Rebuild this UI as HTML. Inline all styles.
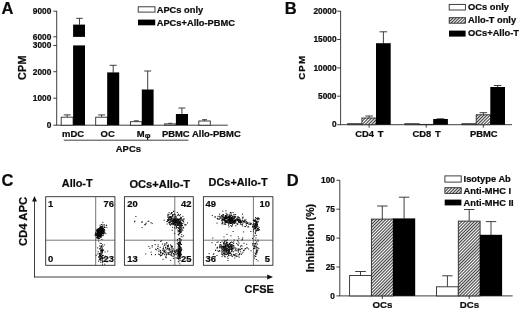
<!DOCTYPE html>
<html><head><meta charset="utf-8"><title>Figure</title>
<style>
html,body{margin:0;padding:0;background:#fff;}
svg{display:block;}
text{font-family:"Liberation Sans",sans-serif;font-weight:bold;fill:#0c0c0c;stroke:#0c0c0c;stroke-width:0.22px;}
</style></head>
<body>
<svg width="520" height="310" viewBox="0 0 520 310">
<defs>
<pattern id="h" width="1.04" height="1.04" patternUnits="userSpaceOnUse" patternTransform="rotate(-45)">
<rect width="1.04" height="1.04" fill="#fff"/><rect width="1.04" height="0.47" fill="#2a2a2a"/>
</pattern>
</defs>
<rect width="520" height="310" fill="#fff"/>
<text x="1.4" y="14.4" font-size="16.5" text-anchor="start">A</text>
<line x1="56.7" y1="10.8" x2="56.7" y2="125.2" stroke="#2a2a2a" stroke-width="0.9"/>
<line x1="56.3" y1="125.2" x2="227.8" y2="125.2" stroke="#2a2a2a" stroke-width="0.9"/>
<line x1="53.3" y1="11.2" x2="56.7" y2="11.2" stroke="#2a2a2a" stroke-width="0.9"/>
<text x="51.3" y="14.0" font-size="8.3" text-anchor="end">9000</text>
<line x1="53.3" y1="36.8" x2="56.7" y2="36.8" stroke="#2a2a2a" stroke-width="0.9"/>
<text x="51.3" y="39.6" font-size="8.3" text-anchor="end">6000</text>
<line x1="53.3" y1="45.5" x2="56.7" y2="45.5" stroke="#2a2a2a" stroke-width="0.9"/>
<text x="51.3" y="48.3" font-size="8.3" text-anchor="end">3000</text>
<line x1="53.3" y1="71.7" x2="56.7" y2="71.7" stroke="#2a2a2a" stroke-width="0.9"/>
<text x="51.3" y="74.5" font-size="8.3" text-anchor="end">2000</text>
<line x1="53.3" y1="98.2" x2="56.7" y2="98.2" stroke="#2a2a2a" stroke-width="0.9"/>
<text x="51.3" y="101.0" font-size="8.3" text-anchor="end">1000</text>
<line x1="53.3" y1="125.2" x2="56.7" y2="125.2" stroke="#2a2a2a" stroke-width="0.9"/>
<text x="51.3" y="128.0" font-size="8.3" text-anchor="end">0</text>
<text x="26.0" y="67.6" font-size="10.8" text-anchor="middle" transform="rotate(-90 26.0 67.6)" letter-spacing="0.3">CPM</text>
<line x1="67.2" y1="114.9" x2="67.2" y2="117.2" stroke="#2a2a2a" stroke-width="0.9"/>
<line x1="63.7" y1="114.9" x2="70.7" y2="114.9" stroke="#2a2a2a" stroke-width="0.9"/>
<rect x="61.2" y="117.2" width="11.9" height="8.0" fill="#fff" stroke="#2a2a2a" stroke-width="0.9"/>
<line x1="79.5" y1="18.3" x2="79.5" y2="24.7" stroke="#2a2a2a" stroke-width="0.9"/>
<line x1="76.2" y1="18.3" x2="82.8" y2="18.3" stroke="#2a2a2a" stroke-width="0.9"/>
<rect x="73.1" y="24.6" width="11.9" height="100.6" fill="#000"/>
<rect x="71.5" y="36.9" width="16" height="8.5" fill="#fff"/>
<line x1="101.6" y1="114.9" x2="101.6" y2="117.2" stroke="#2a2a2a" stroke-width="0.9"/>
<line x1="98.1" y1="114.9" x2="105.1" y2="114.9" stroke="#2a2a2a" stroke-width="0.9"/>
<rect x="95.7" y="117.2" width="11.7" height="8.0" fill="#fff" stroke="#2a2a2a" stroke-width="0.9"/>
<line x1="113.2" y1="65.3" x2="113.2" y2="72.6" stroke="#2a2a2a" stroke-width="0.9"/>
<line x1="109.7" y1="65.3" x2="116.7" y2="65.3" stroke="#2a2a2a" stroke-width="0.9"/>
<rect x="107.2" y="72.4" width="12.0" height="52.8" fill="#000"/>
<line x1="136.2" y1="120.8" x2="136.2" y2="121.7" stroke="#2a2a2a" stroke-width="0.9"/>
<line x1="133.8" y1="120.8" x2="138.8" y2="120.8" stroke="#2a2a2a" stroke-width="0.9"/>
<rect x="130.5" y="121.7" width="11.5" height="3.5" fill="#fff" stroke="#2a2a2a" stroke-width="0.9"/>
<line x1="147.7" y1="71.0" x2="147.7" y2="89.7" stroke="#2a2a2a" stroke-width="0.9"/>
<line x1="144.2" y1="71.0" x2="151.2" y2="71.0" stroke="#2a2a2a" stroke-width="0.9"/>
<rect x="141.8" y="89.5" width="11.8" height="35.7" fill="#000"/>
<line x1="170.3" y1="123.3" x2="170.3" y2="123.9" stroke="#2a2a2a" stroke-width="0.9"/>
<line x1="168.3" y1="123.3" x2="172.3" y2="123.3" stroke="#2a2a2a" stroke-width="0.9"/>
<rect x="164.6" y="123.9" width="11.5" height="1.3" fill="#fff" stroke="#2a2a2a" stroke-width="0.9"/>
<line x1="181.9" y1="108.0" x2="181.9" y2="114.2" stroke="#2a2a2a" stroke-width="0.9"/>
<line x1="178.4" y1="108.0" x2="185.4" y2="108.0" stroke="#2a2a2a" stroke-width="0.9"/>
<rect x="175.9" y="114.0" width="12.1" height="11.2" fill="#000"/>
<line x1="204.6" y1="119.7" x2="204.6" y2="121.0" stroke="#2a2a2a" stroke-width="0.9"/>
<line x1="202.1" y1="119.7" x2="207.1" y2="119.7" stroke="#2a2a2a" stroke-width="0.9"/>
<rect x="198.8" y="121.0" width="11.5" height="4.2" fill="#fff" stroke="#2a2a2a" stroke-width="0.9"/>
<text x="73.0" y="137.3" font-size="9.45" text-anchor="middle">mDC</text>
<text x="107.7" y="137.3" font-size="9.45" text-anchor="middle">OC</text>
<text x="175.8" y="137.3" font-size="9.45" text-anchor="middle">PBMC</text>
<text x="216.4" y="137.3" font-size="9.45" text-anchor="middle">Allo-PBMC</text>
<text x="143.6" y="137.3" font-size="9.45" text-anchor="middle">M<tspan font-size="8" dy="0.6">φ</tspan></text>
<line x1="63.8" y1="140.2" x2="188.4" y2="140.2" stroke="#2a2a2a" stroke-width="0.9"/>
<text x="128.4" y="151.6" font-size="9.45" text-anchor="middle">APCs</text>
<rect x="138.2" y="6.8" width="16.8" height="5.3" fill="#fff" stroke="#2a2a2a" stroke-width="0.9"/>
<rect x="138.0" y="19.6" width="17.2" height="5.7" fill="#000"/>
<text x="156.7" y="12.8" font-size="9.3" text-anchor="start">APCs only</text>
<text x="156.7" y="25.7" font-size="9.3" text-anchor="start">APCs+Allo-PBMC</text>
<text x="284.8" y="14.4" font-size="16.5" text-anchor="start">B</text>
<line x1="340.6" y1="11.0" x2="340.6" y2="124.7" stroke="#2a2a2a" stroke-width="0.9"/>
<line x1="340.2" y1="124.7" x2="512.0" y2="124.7" stroke="#2a2a2a" stroke-width="0.9"/>
<line x1="337.2" y1="11.2" x2="340.6" y2="11.2" stroke="#2a2a2a" stroke-width="0.9"/>
<text x="336.5" y="13.9" font-size="8.3" text-anchor="end">20000</text>
<line x1="337.2" y1="39.5" x2="340.6" y2="39.5" stroke="#2a2a2a" stroke-width="0.9"/>
<text x="336.5" y="42.2" font-size="8.3" text-anchor="end">15000</text>
<line x1="337.2" y1="67.9" x2="340.6" y2="67.9" stroke="#2a2a2a" stroke-width="0.9"/>
<text x="336.5" y="70.6" font-size="8.3" text-anchor="end">10000</text>
<line x1="337.2" y1="96.2" x2="340.6" y2="96.2" stroke="#2a2a2a" stroke-width="0.9"/>
<text x="336.5" y="98.9" font-size="8.3" text-anchor="end">5000</text>
<line x1="337.2" y1="124.7" x2="340.6" y2="124.7" stroke="#2a2a2a" stroke-width="0.9"/>
<text x="336.5" y="127.4" font-size="8.3" text-anchor="end">0</text>
<text x="305.3" y="67.3" font-size="9.7" text-anchor="middle" transform="rotate(-90 305.3 67.3)" letter-spacing="1.1">CPM</text>
<rect x="347.6" y="123.7" width="14.3" height="1.0" fill="#fff" stroke="#2a2a2a" stroke-width="0.9"/>
<line x1="369.1" y1="116.0" x2="369.1" y2="118.0" stroke="#2a2a2a" stroke-width="0.9"/>
<line x1="365.3" y1="116.0" x2="372.8" y2="116.0" stroke="#2a2a2a" stroke-width="0.9"/>
<rect x="361.9" y="118.0" width="14.3" height="6.7" fill="#fff"/>
<rect x="361.9" y="118.0" width="14.3" height="6.7" fill="url(#h)" stroke="#2a2a2a" stroke-width="0.9"/>
<line x1="383.4" y1="31.8" x2="383.4" y2="43.4" stroke="#2a2a2a" stroke-width="0.9"/>
<line x1="379.6" y1="31.8" x2="387.1" y2="31.8" stroke="#2a2a2a" stroke-width="0.9"/>
<rect x="376.0" y="43.2" width="14.7" height="81.5" fill="#000"/>
<line x1="369.1" y1="124.7" x2="369.1" y2="127.7" stroke="#2a2a2a" stroke-width="0.9"/>
<rect x="404.8" y="123.7" width="14.3" height="1.0" fill="#fff" stroke="#2a2a2a" stroke-width="0.9"/>
<rect x="419.1" y="124.4" width="14.3" height="0.3" fill="#fff"/>
<rect x="419.1" y="124.4" width="14.3" height="0.3" fill="url(#h)" stroke="#2a2a2a" stroke-width="0.9"/>
<line x1="440.6" y1="118.8" x2="440.6" y2="119.2" stroke="#2a2a2a" stroke-width="0.9"/>
<line x1="436.8" y1="118.8" x2="444.3" y2="118.8" stroke="#2a2a2a" stroke-width="0.9"/>
<rect x="433.2" y="119.0" width="14.7" height="5.7" fill="#000"/>
<line x1="426.2" y1="124.7" x2="426.2" y2="127.7" stroke="#2a2a2a" stroke-width="0.9"/>
<rect x="461.9" y="123.7" width="14.3" height="1.0" fill="#fff" stroke="#2a2a2a" stroke-width="0.9"/>
<line x1="483.4" y1="112.7" x2="483.4" y2="114.8" stroke="#2a2a2a" stroke-width="0.9"/>
<line x1="479.6" y1="112.7" x2="487.1" y2="112.7" stroke="#2a2a2a" stroke-width="0.9"/>
<rect x="476.2" y="114.8" width="14.3" height="9.9" fill="#fff"/>
<rect x="476.2" y="114.8" width="14.3" height="9.9" fill="url(#h)" stroke="#2a2a2a" stroke-width="0.9"/>
<line x1="497.6" y1="85.5" x2="497.6" y2="87.2" stroke="#2a2a2a" stroke-width="0.9"/>
<line x1="493.9" y1="85.5" x2="501.4" y2="85.5" stroke="#2a2a2a" stroke-width="0.9"/>
<rect x="490.3" y="87.0" width="14.7" height="37.7" fill="#000"/>
<line x1="483.3" y1="124.7" x2="483.3" y2="127.7" stroke="#2a2a2a" stroke-width="0.9"/>
<text x="369.4" y="136.6" font-size="9.4" text-anchor="middle" word-spacing="1.2">CD4 T</text>
<text x="426.6" y="136.6" font-size="9.4" text-anchor="middle" word-spacing="1.2">CD8 T</text>
<text x="483.7" y="136.6" font-size="9.4" text-anchor="middle" word-spacing="1.2">PBMC</text>
<rect x="449.2" y="4.4" width="16.2" height="5.6" fill="#fff" stroke="#2a2a2a" stroke-width="0.9"/>
<rect x="449.2" y="17.7" width="16.2" height="5.5" fill="#fff"/>
<rect x="449.2" y="17.7" width="16.2" height="5.5" fill="url(#h)" stroke="#2a2a2a" stroke-width="0.9"/>
<rect x="449.0" y="30.6" width="16.6" height="6.0" fill="#000"/>
<text x="468.1" y="10.2" font-size="9.3" text-anchor="start">OCs only</text>
<text x="468.1" y="23.3" font-size="9.3" text-anchor="start">Allo-T only</text>
<text x="468.1" y="36.4" font-size="9.3" text-anchor="start">OCs+Allo-T</text>
<text x="1.4" y="185.8" font-size="16.5" text-anchor="start">C</text>
<text x="26.8" y="221.5" font-size="11.3" text-anchor="middle" transform="rotate(-90 26.8 221.5)">CD4 APC</text>
<line x1="34.5" y1="199.0" x2="34.5" y2="277.4" stroke="#2a2a2a" stroke-width="0.9"/>
<line x1="34.1" y1="277.0" x2="269.6" y2="277.0" stroke="#2a2a2a" stroke-width="0.9"/>
<path d="M34.5 196 L32.1 201.4 L36.9 201.4 Z" fill="#111"/>
<path d="M273 277 L267.2 274.6 L267.2 279.4 Z" fill="#111"/>
<text x="259.2" y="293.2" font-size="11" text-anchor="middle">CFSE</text>
<rect x="45.7" y="196.7" width="69.2" height="68.6" fill="none" stroke="#2a2a2a" stroke-width="0.9"/>
<line x1="95.7" y1="196.7" x2="95.7" y2="265.3" stroke="#4a4a4a" stroke-width="0.75"/>
<line x1="45.7" y1="240.2" x2="114.9" y2="240.2" stroke="#4a4a4a" stroke-width="0.75"/>
<text x="77.2" y="186.6" font-size="10.9" text-anchor="middle">Allo-T</text>
<rect x="124.4" y="196.7" width="68.9" height="68.6" fill="none" stroke="#2a2a2a" stroke-width="0.9"/>
<line x1="174.8" y1="196.7" x2="174.8" y2="265.3" stroke="#4a4a4a" stroke-width="0.75"/>
<line x1="124.4" y1="240.2" x2="193.3" y2="240.2" stroke="#4a4a4a" stroke-width="0.75"/>
<text x="159.8" y="187.9" font-size="11.1" text-anchor="middle">OCs+Allo-T</text>
<rect x="203.4" y="196.7" width="69.5" height="68.6" fill="none" stroke="#2a2a2a" stroke-width="0.9"/>
<line x1="253.4" y1="196.7" x2="253.4" y2="265.3" stroke="#4a4a4a" stroke-width="0.75"/>
<line x1="203.4" y1="240.2" x2="272.9" y2="240.2" stroke="#4a4a4a" stroke-width="0.75"/>
<text x="238.1" y="186.4" font-size="10.9" text-anchor="middle">DCs+Allo-T</text>
<path d="M102.3 231.0h1.0M98.9 231.7h1.0M99.7 229.1h1.0M100.3 229.7h1.0M98.3 234.4h1.0M99.6 234.7h1.0M99.6 232.4h1.0M96.8 231.5h1.0M101.2 231.7h1.0M100.6 231.2h1.0M98.6 233.9h1.0M99.3 232.6h1.0M100.4 230.4h1.0M99.2 232.8h1.0M99.2 229.7h1.0M97.3 235.1h1.0M100.5 234.5h1.0M99.8 229.4h1.0M100.0 233.0h1.0M97.2 231.0h1.0M102.2 233.5h1.0M99.8 234.2h1.0M99.0 232.0h1.0M102.8 233.0h1.0M99.5 231.2h1.0M97.3 231.8h1.0M99.0 231.2h1.0M95.9 233.5h1.0M101.3 230.7h1.0M98.9 232.9h1.0M98.4 231.3h1.0M101.3 233.2h1.0M97.0 235.7h1.0M100.5 230.7h1.0M96.3 230.4h1.0M98.5 234.3h1.0M97.7 235.7h1.0M101.9 230.8h1.0M102.4 228.0h1.0M99.1 233.0h1.0M100.9 235.1h1.0M99.3 228.0h1.0M100.5 232.9h1.0M98.4 232.0h1.0M96.9 231.5h1.0M96.7 234.6h1.0M100.2 229.0h1.0M103.2 231.3h1.0M100.0 235.0h1.0M98.8 233.0h1.0M102.7 228.8h1.0M100.0 228.0h1.0M99.8 229.2h1.0M100.0 227.8h1.0M99.4 236.0h1.0M99.1 231.9h1.0M97.3 230.8h1.0M100.4 228.9h1.0M99.4 229.8h1.0M101.5 230.6h1.0M99.0 229.5h1.0M96.5 237.4h1.0M99.4 230.6h1.0M102.3 229.2h1.0M99.0 233.2h1.0M98.2 236.2h1.0M97.7 236.1h1.0M97.9 231.8h1.0M99.1 233.0h1.0M97.7 233.4h1.0M102.0 232.3h1.0M99.1 233.0h1.0M99.8 230.0h1.0M101.9 228.3h1.0M102.0 231.5h1.0M99.3 229.6h1.0M100.1 235.1h1.0M100.8 231.8h1.0M99.3 230.0h1.0M96.8 232.7h1.0M100.6 230.6h1.0M101.0 231.3h1.0M100.3 234.1h1.0M98.1 229.6h1.0M99.3 228.1h1.0M98.7 233.4h1.0M99.1 232.0h1.0M101.7 231.6h1.0M102.0 232.1h1.0M100.7 231.3h1.0M100.5 233.6h1.0M100.7 229.7h1.0M99.6 232.4h1.0M99.5 230.4h1.0M98.5 230.1h1.0M99.5 233.6h1.0M103.2 231.9h1.0M101.0 227.1h1.0M99.1 229.9h1.0M98.8 233.2h1.0M98.2 235.3h1.0M100.2 230.4h1.0M100.2 231.5h1.0M97.3 230.0h1.0M100.4 237.6h1.0M98.7 233.7h1.0M101.9 233.2h1.0M99.9 233.6h1.0M102.3 233.1h1.0M98.9 233.9h1.0M99.1 231.6h1.0M100.1 233.7h1.0M101.3 231.6h1.0M100.5 234.8h1.0M97.6 231.4h1.0M99.9 230.8h1.0M99.6 233.7h1.0M98.9 235.4h1.0M98.6 233.0h1.0M102.4 229.3h1.0M99.0 232.2h1.0M98.2 231.7h1.0M100.6 236.1h1.0M99.8 234.2h1.0M99.5 235.1h1.0M100.9 232.3h1.0M100.4 230.6h1.0M100.2 234.6h1.0M101.1 235.3h1.0M100.1 233.3h1.0M98.6 232.6h1.0M99.0 234.9h1.0M98.8 231.7h1.0M99.9 233.8h1.0M97.9 231.3h1.0M96.7 231.3h1.0M99.7 233.4h1.0M97.5 233.9h1.0M96.5 238.0h1.0M100.2 231.3h1.0M98.5 232.8h1.0M100.4 229.2h1.0M98.8 228.3h1.0M97.8 228.9h1.0M97.6 234.2h1.0M98.8 229.9h1.0M99.2 235.0h1.0M98.3 236.0h1.0M99.2 231.7h1.0M97.1 237.1h1.0M99.6 232.7h1.0M96.7 236.1h1.0M99.3 231.8h1.0M100.7 233.9h1.0M101.3 229.3h1.0M102.3 232.4h1.0M97.1 232.3h1.0M100.8 231.4h1.0M101.5 232.8h1.0M101.2 231.9h1.0M98.1 232.7h1.0M100.3 233.6h1.0M102.6 232.7h1.0M97.2 230.1h1.0M100.4 233.1h1.0M101.4 232.9h1.0M98.5 231.0h1.0M100.5 232.7h1.0M97.9 229.9h1.0M98.3 236.1h1.0M98.3 232.2h1.0M99.9 231.9h1.0M99.5 235.0h1.0M101.1 231.2h1.0M98.1 234.2h1.0M99.4 229.9h1.0M101.1 230.2h1.0M100.5 228.6h1.0M97.5 232.7h1.0M100.7 234.1h1.0M98.8 233.1h1.0M100.2 233.9h1.0M100.1 229.6h1.0M101.6 229.3h1.0M99.8 231.1h1.0M96.6 234.8h1.0M97.4 234.0h1.0M100.8 231.6h1.0M99.2 233.8h1.0M101.4 231.0h1.0M100.0 232.0h1.0M98.4 235.7h1.0M101.3 230.1h1.0M98.3 233.2h1.0M96.3 237.4h1.0M102.9 230.9h1.0M96.5 235.2h1.0M100.6 230.4h1.0M101.1 236.0h1.0M99.8 226.9h1.0M96.9 230.8h1.0M101.2 229.1h1.0M97.3 236.9h1.0M97.5 234.0h1.0M99.0 231.9h1.0M100.9 228.7h1.0M100.1 232.8h1.0M100.9 231.9h1.0M98.9 230.9h1.0M99.3 228.9h1.0M97.8 230.5h1.0M99.1 232.9h1.0M100.5 232.5h1.0M99.1 232.6h1.0M100.4 231.5h1.0M98.7 228.6h1.0M98.7 232.7h1.0M99.7 229.8h1.0M99.3 232.4h1.0M100.5 232.8h1.0M99.9 230.5h1.0M102.4 228.6h1.0M99.2 234.6h1.0M99.2 233.2h1.0M97.9 231.5h1.0M99.6 225.3h1.0M100.7 231.6h1.0M98.4 234.2h1.0M99.5 234.8h1.0M100.7 230.1h1.0M99.4 230.8h1.0M98.8 231.6h1.0M101.2 233.4h1.0M99.8 229.4h1.0M100.2 231.7h1.0M101.5 229.2h1.0M101.4 232.0h1.0M99.0 228.9h1.0M98.8 233.4h1.0M100.1 230.9h1.0M99.4 231.8h1.0M96.6 234.8h1.0M101.6 233.9h1.0M99.6 228.3h1.0M100.8 234.0h1.0M97.7 234.3h1.0M101.7 230.6h1.0M98.7 235.8h1.0M99.4 232.7h1.0M97.4 236.2h1.0M99.3 231.0h1.0M99.2 230.4h1.0M99.3 235.1h1.0M100.3 236.8h1.0M99.7 233.6h1.0M101.2 233.5h1.0M98.9 231.5h1.0M98.0 229.9h1.0M99.6 231.7h1.0M100.6 235.2h1.0M101.6 227.0h1.0M100.9 230.5h1.0M96.8 229.1h1.0M100.2 232.2h1.0M101.9 233.2h1.0M99.7 229.3h1.0M98.8 231.6h1.0M100.1 235.0h1.0M98.8 232.4h1.0M100.6 228.9h1.0M99.6 229.2h1.0M101.8 226.6h1.0M100.4 233.6h1.0M98.4 231.0h1.0M100.6 234.2h1.0M101.1 233.5h1.0M98.7 231.1h1.0M98.9 231.3h1.0M95.9 235.6h1.0M101.0 231.9h1.0M98.7 233.2h1.0M96.2 230.0h1.0M96.8 235.5h1.0M99.2 230.4h1.0M100.8 226.5h1.0M99.5 230.9h1.0M100.4 232.8h1.0M97.8 237.8h1.0M97.5 232.3h1.0M101.0 228.5h1.0M100.4 236.7h1.0M99.6 232.6h1.0M101.7 230.7h1.0M98.1 230.4h1.0M98.9 230.2h1.0M101.2 234.8h1.0M102.5 230.3h1.0M99.6 231.0h1.0M102.3 229.8h1.0M98.6 236.2h1.0M100.1 230.6h1.0M99.3 233.8h1.0M97.1 234.0h1.0M100.0 232.6h1.0M101.1 229.5h1.0M99.4 233.8h1.0M99.5 235.9h1.0M101.8 231.1h1.0M97.6 231.0h1.0M97.2 230.3h1.0M98.6 233.1h1.0M97.7 232.4h1.0M101.8 231.0h1.0M100.1 232.0h1.0M98.2 229.4h1.0M98.6 234.4h1.0M104.2 230.7h1.0M98.6 232.5h1.0M98.4 233.3h1.0M100.1 234.1h1.0M100.6 231.9h1.0M100.0 230.1h1.0M98.1 235.5h1.0M97.7 232.0h1.0M100.6 230.1h1.0M99.5 228.7h1.0M97.0 233.4h1.0M101.5 229.0h1.0M100.8 230.5h1.0M99.2 233.4h1.0M99.2 232.5h1.0M100.0 234.4h1.0M98.5 233.4h1.0M97.4 232.2h1.0M100.1 231.2h1.0M97.3 232.1h1.0M100.2 233.4h1.0M97.3 233.3h1.0M99.4 231.3h1.0M99.4 234.2h1.0M102.5 231.1h1.0M97.9 231.9h1.0M97.3 229.8h1.0M98.6 233.7h1.0M97.8 233.6h1.0M98.7 232.7h1.0M100.3 230.9h1.0M100.8 229.7h1.0M102.3 230.5h1.0M98.4 233.3h1.0M103.8 230.0h1.0M102.8 230.4h1.0M99.3 231.3h1.0M95.9 234.6h1.0M99.5 232.8h1.0M99.7 230.4h1.0M95.9 235.6h1.0M99.7 234.0h1.0M99.3 234.2h1.0M98.3 232.5h1.0M100.6 231.3h1.0M101.2 228.8h1.0M98.8 234.3h1.0M100.0 227.1h1.0M98.6 231.8h1.0M98.3 232.0h1.0M99.7 234.1h1.0M100.4 231.8h1.0M98.7 230.4h1.0M96.1 230.5h1.0M100.5 230.1h1.0M97.0 233.6h1.0M99.8 232.2h1.0M102.4 230.5h1.0M99.6 230.6h1.0M97.7 232.6h1.0M97.3 235.5h1.0M101.5 228.8h1.0M99.6 232.3h1.0M100.5 235.5h1.0M101.1 232.8h1.0M99.5 231.2h1.0M99.1 233.9h1.0M98.1 231.2h1.0M94.7 234.4h1.0M97.2 236.9h1.0M99.5 236.6h1.0M99.3 228.4h1.0M100.2 233.5h1.0M99.4 236.8h1.0M99.9 230.8h1.0M100.9 232.2h1.0M98.2 236.3h1.0M99.1 231.3h1.0M97.0 234.4h1.0M101.2 231.4h1.0M99.7 227.8h1.0M100.4 232.6h1.0M102.1 230.7h1.0M101.3 233.5h1.0M99.5 237.0h1.0M100.9 233.2h1.0M97.3 232.4h1.0M100.3 232.9h1.0M99.8 232.6h1.0M97.0 235.7h1.0M101.7 227.9h1.0M98.5 230.0h1.0M100.7 227.0h1.0M98.9 233.9h1.0M101.2 231.4h1.0M101.7 229.8h1.0M98.3 231.1h1.0M97.2 232.0h1.0M99.4 230.2h1.0M101.0 230.9h1.0M99.0 231.3h1.0M98.6 235.8h1.0M100.4 232.6h1.0M95.2 232.3h1.0M98.5 231.3h1.0M97.4 235.9h1.0M100.1 233.0h1.0M98.4 233.4h1.0M97.8 234.7h1.0M99.0 236.1h1.0M97.3 230.5h1.0M99.6 230.5h1.0M98.5 228.7h1.0M99.0 233.6h1.0M98.5 231.8h1.0M101.1 230.0h1.0M99.4 230.5h1.0M100.4 233.4h1.0M100.4 231.5h1.0M98.3 231.6h1.0M100.5 234.7h1.0M100.2 229.6h1.0M100.1 229.1h1.0M99.0 238.4h1.0M98.9 231.7h1.0M100.9 230.4h1.0M103.1 229.0h1.0M98.3 232.5h1.0M100.5 233.6h1.0M99.0 234.2h1.0M100.9 232.9h1.0M100.3 231.2h1.0M101.3 228.0h1.0M95.1 234.9h1.0M98.6 236.1h1.0M98.0 235.4h1.0M99.4 231.9h1.0M98.4 234.6h1.0M98.6 231.8h1.0M100.7 231.6h1.0M102.6 228.0h1.0M95.1 233.5h1.0M99.1 232.7h1.0M100.1 231.6h1.0M102.8 233.6h1.0M106.3 227.3h1.0M104.5 227.5h1.0M99.3 230.0h1.0M98.0 234.5h1.0M98.2 241.1h1.0M97.2 238.1h1.0M100.4 237.0h1.0M101.6 235.5h1.0M100.9 224.5h1.0M100.9 229.9h1.0M100.8 229.1h1.0M99.9 236.0h1.0M97.9 238.7h1.0M105.8 225.5h1.0M103.7 229.4h1.0M97.4 234.7h1.0M97.4 230.6h1.0M98.4 229.6h1.0M100.4 228.3h1.0M104.3 232.3h1.0M103.5 225.8h1.0M103.7 233.6h1.0M103.8 229.5h1.0M103.8 232.0h1.0M102.7 235.7h1.0M101.8 227.7h1.0M99.9 228.1h1.0M94.7 235.6h1.0M99.9 227.2h1.0M106.1 225.2h1.0M98.6 231.5h1.0M98.3 232.7h1.0M103.6 224.5h1.0M100.6 229.4h1.0M98.8 234.0h1.0M105.3 233.6h1.0M102.3 222.4h1.0M102.7 234.7h1.0M98.5 235.3h1.0M101.9 226.0h1.0M101.5 224.7h1.0M102.8 231.3h1.0M104.0 227.5h1.0M103.9 229.6h1.0M100.8 234.0h1.0M102.5 228.4h1.0M96.6 233.5h1.0M102.4 231.7h1.0M102.5 233.3h1.0M99.1 238.4h1.0M97.8 238.8h1.0M100.1 232.0h1.0M96.4 232.1h1.0M101.4 239.5h1.0M101.2 233.0h1.0M97.3 234.2h1.0M100.5 226.7h1.0M103.7 232.2h1.0M103.7 226.2h1.0M100.3 260.2h1.0M99.3 257.5h1.0M100.2 256.5h1.0M100.9 257.0h1.0M99.2 255.1h1.0M99.8 248.5h1.0M100.7 258.4h1.0M99.4 258.4h1.0M99.4 253.7h1.0M99.9 258.5h1.0M99.3 259.4h1.0M101.5 247.5h1.0M99.7 253.7h1.0M101.6 252.1h1.0M101.8 249.5h1.0M99.5 256.3h1.0M100.8 249.9h1.0M100.3 252.1h1.0M99.6 255.8h1.0M100.4 256.4h1.0M100.5 256.3h1.0M101.9 251.7h1.0M99.6 255.9h1.0M100.4 247.9h1.0M101.4 257.1h1.0M102.1 260.8h1.0M98.1 261.2h1.0M102.2 251.0h1.0M100.6 253.0h1.0M102.5 261.4h1.0M100.3 254.0h1.0M99.9 259.8h1.0M100.8 249.2h1.0M102.1 262.1h1.0M100.8 260.1h1.0M98.2 257.1h1.0M101.6 250.1h1.0M99.0 253.6h1.0M99.7 255.3h1.0M99.5 255.9h1.0M98.8 253.9h1.0M99.4 253.3h1.0M99.7 255.6h1.0M100.1 262.2h1.0M100.7 243.5h1.0M100.4 247.0h1.0M99.2 246.0h1.0M100.6 250.7h1.0M101.9 244.9h1.0M101.8 257.5h1.0M100.9 255.0h1.0M101.5 253.1h1.0M101.8 250.8h1.0M102.3 255.4h1.0M102.7 255.5h1.0M100.4 256.3h1.0M100.5 250.5h1.0M102.4 258.1h1.0M102.5 246.4h1.0M102.5 261.4h1.0M98.2 237.6h1.0M100.6 251.2h1.0M97.2 247.9h1.0M101.6 258.8h1.0M100.9 246.3h1.0M100.6 246.0h1.0M100.5 257.0h1.0M101.6 256.8h1.0M102.6 258.7h1.0M107.2 251.1h1.0M103.8 244.9h1.0M95.7 255.4h1.0M104.6 252.0h1.0M102.1 255.5h1.0M97.3 254.0h1.0M103.5 257.3h1.0M98.4 256.9h1.0M102.0 258.1h1.0M102.1 250.2h1.0M99.8 259.0h1.0M103.2 250.0h1.0M98.8 253.5h1.0M102.0 264.2h1.0M100.1 255.1h1.0M101.0 246.0h1.0M106.5 261.9h1.0M101.8 259.0h1.0M98.7 259.8h1.0M101.2 254.2h1.0M99.5 255.1h1.0M101.6 251.6h1.0M101.9 248.8h1.0M101.7 262.2h1.0M101.7 250.8h1.0M100.1 250.1h1.0M102.7 250.3h1.0M104.2 264.2h1.0M99.9 258.3h1.0M101.3 250.8h1.0M101.7 252.7h1.0M104.8 256.1h1.0M104.3 258.3h1.0M99.6 243.3h1.0M101.7 258.4h1.0M97.6 251.7h1.0M99.0 248.9h1.0M101.5 250.7h1.0M177.9 224.0h1.0M181.9 220.2h1.0M175.3 221.6h1.0M177.0 219.7h1.0M171.4 212.5h1.0M176.7 222.0h1.0M178.1 223.8h1.0M168.6 212.7h1.0M172.6 220.1h1.0M177.9 220.6h1.0M167.5 215.8h1.0M173.2 220.0h1.0M177.2 215.4h1.0M167.8 220.3h1.0M173.1 224.7h1.0M174.9 217.0h1.0M178.4 221.9h1.0M169.5 224.6h1.0M179.2 222.8h1.0M176.0 219.8h1.0M179.6 219.4h1.0M179.5 223.0h1.0M176.1 221.1h1.0M176.7 223.8h1.0M167.6 214.3h1.0M169.2 223.4h1.0M170.6 218.8h1.0M173.3 223.0h1.0M178.5 219.8h1.0M167.4 215.0h1.0M173.4 219.0h1.0M169.3 216.6h1.0M168.3 218.3h1.0M180.8 224.9h1.0M175.1 224.9h1.0M181.4 223.6h1.0M179.6 220.6h1.0M170.9 218.7h1.0M167.1 221.2h1.0M183.2 227.2h1.0M173.0 219.7h1.0M170.0 219.6h1.0M177.5 219.4h1.0M175.3 222.0h1.0M171.9 223.7h1.0M173.3 211.1h1.0M175.4 222.2h1.0M175.0 219.4h1.0M177.8 214.2h1.0M173.3 221.9h1.0M173.3 220.5h1.0M177.2 223.1h1.0M176.0 217.0h1.0M179.2 229.5h1.0M173.7 221.3h1.0M174.3 220.0h1.0M170.0 225.1h1.0M180.8 225.0h1.0M169.0 222.5h1.0M175.5 225.3h1.0M171.0 213.3h1.0M176.1 227.1h1.0M177.8 220.8h1.0M168.0 220.4h1.0M173.8 224.1h1.0M167.5 217.0h1.0M180.5 223.7h1.0M172.9 223.3h1.0M168.2 219.4h1.0M171.8 222.1h1.0M180.1 217.2h1.0M180.8 218.8h1.0M179.9 218.7h1.0M171.5 221.6h1.0M174.1 233.5h1.0M181.4 223.8h1.0M171.7 219.9h1.0M173.3 220.6h1.0M170.8 223.5h1.0M169.9 222.4h1.0M179.6 218.6h1.0M177.3 225.3h1.0M176.5 221.6h1.0M177.1 224.5h1.0M178.9 215.6h1.0M180.9 217.6h1.0M174.7 223.2h1.0M173.3 214.8h1.0M170.5 221.4h1.0M179.1 223.5h1.0M172.6 221.1h1.0M168.6 220.8h1.0M173.6 221.8h1.0M174.8 222.7h1.0M178.1 220.7h1.0M178.8 222.2h1.0M171.7 230.2h1.0M171.4 224.2h1.0M173.4 222.9h1.0M169.7 221.2h1.0M174.3 218.7h1.0M176.6 222.4h1.0M174.9 220.4h1.0M168.1 222.7h1.0M169.8 216.9h1.0M180.0 214.7h1.0M170.5 218.3h1.0M177.7 224.3h1.0M177.3 230.1h1.0M173.4 224.3h1.0M170.6 216.9h1.0M175.6 220.7h1.0M171.1 217.1h1.0M174.0 220.4h1.0M175.1 218.3h1.0M171.8 215.0h1.0M173.8 222.4h1.0M173.4 221.5h1.0M169.6 219.3h1.0M173.9 222.2h1.0M172.1 227.3h1.0M167.2 219.7h1.0M173.3 219.6h1.0M173.5 223.8h1.0M172.2 215.1h1.0M166.2 221.6h1.0M177.9 219.4h1.0M177.5 219.2h1.0M177.4 222.3h1.0M176.0 227.1h1.0M169.5 217.4h1.0M175.2 224.5h1.0M170.9 221.5h1.0M183.7 218.9h1.0M172.6 223.7h1.0M177.4 219.1h1.0M168.3 214.7h1.0M169.9 217.3h1.0M172.5 218.2h1.0M177.6 223.9h1.0M176.9 219.3h1.0M175.9 226.5h1.0M167.1 220.0h1.0M179.3 220.0h1.0M170.9 217.4h1.0M181.3 223.7h1.0M182.4 216.4h1.0M178.1 214.8h1.0M178.8 219.3h1.0M169.5 222.0h1.0M185.3 224.5h1.0M175.6 221.5h1.0M178.8 221.5h1.0M171.2 213.0h1.0M174.4 220.0h1.0M169.8 214.0h1.0M173.7 223.7h1.0M174.8 221.2h1.0M175.7 221.2h1.0M180.4 224.0h1.0M176.7 222.8h1.0M175.7 222.2h1.0M174.9 222.4h1.0M182.9 221.3h1.0M172.3 216.1h1.0M179.6 223.6h1.0M166.7 224.0h1.0M171.1 223.7h1.0M176.4 220.9h1.0M174.0 223.1h1.0M187.0 222.9h1.0M185.3 225.2h1.0M168.5 217.6h1.0M170.3 220.5h1.0M174.1 227.7h1.0M181.8 225.6h1.0M179.4 227.4h1.0M176.0 219.0h1.0M168.9 217.4h1.0M171.2 220.2h1.0M163.7 220.2h1.0M168.4 218.9h1.0M176.5 225.0h1.0M177.9 220.2h1.0M169.4 224.4h1.0M175.2 224.6h1.0M181.4 219.2h1.0M175.4 223.3h1.0M173.5 220.1h1.0M177.2 225.2h1.0M176.9 220.0h1.0M175.1 222.3h1.0M172.5 222.5h1.0M173.0 211.6h1.0M175.1 215.0h1.0M172.5 221.1h1.0M180.2 222.2h1.0M178.4 225.5h1.0M179.2 223.1h1.0M183.0 219.1h1.0M181.2 224.0h1.0M180.5 220.2h1.0M176.2 220.8h1.0M173.9 219.3h1.0M184.2 224.8h1.0M172.0 215.8h1.0M172.2 216.8h1.0M171.2 212.9h1.0M175.6 228.6h1.0M176.4 218.3h1.0M178.9 219.4h1.0M173.8 217.1h1.0M167.6 217.2h1.0M176.0 220.1h1.0M178.7 224.3h1.0M174.8 221.8h1.0M174.2 222.2h1.0M177.0 219.8h1.0M180.6 222.5h1.0M174.4 225.2h1.0M168.9 219.6h1.0M172.4 221.6h1.0M174.0 214.3h1.0M167.3 221.0h1.0M177.9 222.9h1.0M171.6 224.7h1.0M176.8 212.5h1.0M175.5 221.5h1.0M173.4 220.4h1.0M181.4 223.2h1.0M172.4 218.5h1.0M172.0 221.2h1.0M175.9 223.8h1.0M178.1 222.2h1.0M174.7 220.2h1.0M170.7 219.4h1.0M177.5 220.6h1.0M177.2 221.9h1.0M183.2 220.9h1.0M173.8 214.3h1.0M175.6 225.9h1.0M172.4 214.7h1.0M168.6 219.2h1.0M175.0 216.8h1.0M178.2 221.1h1.0M170.5 216.8h1.0M171.9 220.3h1.0M169.9 217.1h1.0M180.2 218.2h1.0M172.1 221.5h1.0M182.3 230.6h1.0M180.6 231.4h1.0M180.1 222.0h1.0M178.0 231.0h1.0M179.8 224.1h1.0M180.7 236.4h1.0M178.8 230.1h1.0M181.6 229.4h1.0M179.9 228.0h1.0M180.6 228.6h1.0M179.0 228.7h1.0M179.0 225.8h1.0M180.3 231.9h1.0M180.6 229.9h1.0M180.5 231.9h1.0M178.1 228.5h1.0M178.6 231.6h1.0M179.9 225.6h1.0M176.6 243.7h1.0M181.8 225.7h1.0M180.5 226.9h1.0M180.0 232.8h1.0M178.6 233.9h1.0M181.4 225.4h1.0M179.4 221.7h1.0M183.3 222.9h1.0M180.6 224.6h1.0M177.2 225.4h1.0M181.2 228.0h1.0M179.0 233.1h1.0M179.0 233.3h1.0M179.5 226.2h1.0M179.7 231.0h1.0M180.4 232.4h1.0M181.3 234.6h1.0M180.7 228.1h1.0M178.6 225.6h1.0M177.5 231.9h1.0M178.4 235.1h1.0M180.5 226.5h1.0M181.5 236.9h1.0M183.1 235.9h1.0M177.5 227.6h1.0M180.0 222.1h1.0M179.5 226.2h1.0M179.2 227.2h1.0M180.1 231.0h1.0M179.4 221.7h1.0M179.4 238.9h1.0M178.7 238.5h1.0M180.6 225.7h1.0M181.8 220.9h1.0M182.8 228.0h1.0M178.9 230.5h1.0M178.0 234.4h1.0M179.4 231.7h1.0M178.4 227.9h1.0M181.7 220.4h1.0M178.4 230.9h1.0M180.0 232.2h1.0M177.5 227.4h1.0M179.3 229.9h1.0M180.2 229.6h1.0M182.6 227.7h1.0M178.6 223.8h1.0M180.6 230.1h1.0M176.2 222.7h1.0M177.7 234.6h1.0M178.4 224.9h1.0M179.0 230.8h1.0M141.6 227.6h1.0M150.5 222.7h1.0M145.7 223.1h1.0M151.7 223.6h1.0M141.1 222.1h1.0M134.4 221.2h1.0M145.2 224.1h1.0M144.6 224.4h1.0M135.4 216.5h1.0M141.9 222.0h1.0M134.0 221.7h1.0M148.3 221.2h1.0M144.4 224.8h1.0M147.5 221.3h1.0M179.7 253.1h1.0M178.4 253.6h1.0M178.6 245.7h1.0M179.6 243.7h1.0M178.3 242.5h1.0M178.8 249.8h1.0M177.9 261.3h1.0M178.1 252.4h1.0M179.6 246.4h1.0M179.5 252.9h1.0M177.9 250.2h1.0M177.9 252.2h1.0M181.2 249.6h1.0M178.4 246.0h1.0M178.1 249.2h1.0M179.4 254.5h1.0M178.2 252.8h1.0M178.6 256.6h1.0M179.7 247.0h1.0M179.8 255.9h1.0M178.8 251.8h1.0M180.1 252.3h1.0M178.8 256.8h1.0M178.7 251.0h1.0M178.9 252.6h1.0M178.7 254.2h1.0M179.4 254.3h1.0M179.2 255.0h1.0M178.2 257.0h1.0M179.1 253.8h1.0M178.4 249.7h1.0M178.4 261.9h1.0M178.8 251.5h1.0M179.8 253.2h1.0M179.2 248.5h1.0M180.1 242.5h1.0M180.3 248.4h1.0M178.9 251.9h1.0M178.4 253.9h1.0M178.2 251.8h1.0M179.2 255.0h1.0M179.7 255.8h1.0M180.4 255.8h1.0M177.8 251.7h1.0M179.8 252.0h1.0M179.9 250.8h1.0M181.1 248.0h1.0M179.1 257.7h1.0M178.9 246.4h1.0M177.6 251.4h1.0M178.2 252.6h1.0M177.9 242.7h1.0M178.0 254.8h1.0M178.1 250.2h1.0M177.6 252.6h1.0M178.9 250.3h1.0M179.3 245.2h1.0M179.6 252.5h1.0M178.8 252.1h1.0M179.9 255.9h1.0M179.9 253.7h1.0M177.6 244.6h1.0M178.7 256.3h1.0M177.8 255.0h1.0M178.1 254.9h1.0M179.1 253.7h1.0M178.8 248.7h1.0M180.3 253.9h1.0M180.8 250.2h1.0M179.3 263.8h1.0M178.8 250.7h1.0M178.8 247.0h1.0M178.9 250.3h1.0M179.5 257.7h1.0M178.3 249.3h1.0M179.5 241.4h1.0M178.7 257.9h1.0M179.9 253.1h1.0M180.2 249.6h1.0M180.5 254.7h1.0M178.8 247.8h1.0M177.7 246.8h1.0M177.4 255.7h1.0M178.7 249.5h1.0M177.7 253.9h1.0M177.5 251.7h1.0M178.6 255.2h1.0M178.1 252.1h1.0M179.6 243.1h1.0M180.7 254.5h1.0M178.7 249.7h1.0M179.2 255.4h1.0M177.5 252.2h1.0M179.1 257.7h1.0M178.3 250.4h1.0M178.0 243.0h1.0M177.3 250.3h1.0M180.4 253.8h1.0M177.5 250.2h1.0M177.9 249.7h1.0M179.0 257.9h1.0M179.2 251.0h1.0M179.2 256.1h1.0M179.1 252.3h1.0M178.2 245.6h1.0M179.7 247.7h1.0M179.1 250.4h1.0M177.7 253.0h1.0M180.4 248.3h1.0M178.7 245.7h1.0M179.8 247.4h1.0M177.7 249.5h1.0M177.9 248.0h1.0M178.4 249.2h1.0M178.3 259.5h1.0M179.9 252.8h1.0M177.5 248.2h1.0M179.1 251.6h1.0M178.1 258.3h1.0M179.4 254.4h1.0M179.2 251.2h1.0M178.5 246.0h1.0M181.0 244.5h1.0M178.9 250.2h1.0M180.0 251.2h1.0M177.8 244.8h1.0M178.9 246.0h1.0M179.0 251.5h1.0M179.1 242.3h1.0M178.7 244.4h1.0M178.2 251.4h1.0M176.2 254.0h1.0M178.5 253.0h1.0M178.1 255.8h1.0M178.7 258.3h1.0M179.7 255.4h1.0M181.0 250.5h1.0M179.5 260.6h1.0M179.9 258.7h1.0M179.5 255.6h1.0M179.6 248.3h1.0M179.5 253.4h1.0M178.7 242.9h1.0M178.7 250.3h1.0M179.3 241.2h1.0M180.6 249.9h1.0M179.7 256.0h1.0M180.4 251.8h1.0M177.8 258.5h1.0M179.2 251.7h1.0M167.9 244.9h1.0M165.5 251.1h1.0M170.5 255.3h1.0M167.1 248.4h1.0M174.5 251.8h1.0M177.0 253.4h1.0M169.6 251.9h1.0M160.6 255.5h1.0M170.7 247.3h1.0M175.5 258.0h1.0M171.2 246.7h1.0M169.1 248.6h1.0M173.0 249.0h1.0M175.3 252.2h1.0M151.7 245.6h1.0M176.5 254.8h1.0M172.0 252.0h1.0M170.2 260.4h1.0M164.0 251.8h1.0M168.7 250.2h1.0M171.0 253.2h1.0M158.4 251.5h1.0M171.8 251.1h1.0M167.8 246.6h1.0M176.2 249.6h1.0M171.4 252.5h1.0M166.3 254.1h1.0M167.7 252.9h1.0M171.2 251.4h1.0M168.2 253.4h1.0M170.6 249.7h1.0M163.1 251.1h1.0M159.9 255.1h1.0M163.9 254.7h1.0M158.8 254.6h1.0M162.7 248.5h1.0M169.5 252.2h1.0M157.6 244.8h1.0M160.0 253.1h1.0M171.8 250.2h1.0M164.2 245.0h1.0M167.3 248.9h1.0M159.9 250.4h1.0M161.1 240.8h1.0M165.5 244.9h1.0M177.2 256.9h1.0M170.0 251.9h1.0M157.3 248.6h1.0M170.0 245.0h1.0M172.9 258.4h1.0M171.5 255.9h1.0M160.0 252.2h1.0M167.0 246.4h1.0M180.1 255.9h1.0M161.8 254.3h1.0M169.4 250.0h1.0M162.9 249.0h1.0M159.7 247.4h1.0M164.8 252.8h1.0M173.5 251.3h1.0M174.3 251.1h1.0M162.1 244.0h1.0M164.5 243.7h1.0M162.0 253.5h1.0M154.9 254.6h1.0M171.0 255.1h1.0M176.7 258.6h1.0M176.4 250.6h1.0M164.6 250.1h1.0M175.3 254.1h1.0M173.9 251.6h1.0M165.4 257.2h1.0M167.4 245.6h1.0M165.2 248.1h1.0M168.8 249.8h1.0M178.3 250.4h1.0M161.8 253.1h1.0M160.2 241.4h1.0M172.6 256.6h1.0M167.8 254.6h1.0M156.1 249.8h1.0M161.3 255.2h1.0M162.5 259.3h1.0M163.8 250.9h1.0M169.4 254.3h1.0M173.4 253.8h1.0M166.5 252.8h1.0M168.3 249.1h1.0M163.0 247.1h1.0M173.6 254.7h1.0M175.5 250.6h1.0M165.9 254.4h1.0M163.0 253.2h1.0M179.9 251.8h1.0M173.0 253.6h1.0M162.1 250.2h1.0M157.3 248.3h1.0M165.7 255.2h1.0M174.7 252.7h1.0M164.2 251.2h1.0M166.0 242.9h1.0M164.5 252.8h1.0M171.4 246.1h1.0M175.9 251.2h1.0M159.9 255.9h1.0M165.8 257.8h1.0M166.3 249.2h1.0M163.8 245.2h1.0M160.3 251.1h1.0M172.4 250.5h1.0M168.4 252.6h1.0M171.8 246.5h1.0M176.6 257.4h1.0M165.3 256.8h1.0M170.8 245.9h1.0M165.1 247.4h1.0M167.0 248.1h1.0M169.5 254.4h1.0M166.5 242.9h1.0M158.5 250.0h1.0M176.6 252.0h1.0M168.4 248.1h1.0M160.6 252.4h1.0M154.3 240.4h1.0M167.4 245.5h1.0M171.5 248.7h1.0M173.6 255.2h1.0M174.2 251.1h1.0M165.2 247.2h1.0M171.4 253.8h1.0M149.4 248.3h1.0M148.3 246.4h1.0M150.6 252.1h1.0M155.1 249.2h1.0M171.6 247.8h1.0M145.2 254.0h1.0M154.7 244.6h1.0M151.7 247.0h1.0M151.0 254.6h1.0M163.4 250.2h1.0M158.2 254.0h1.0M157.5 246.4h1.0M179.3 239.8h1.0M177.1 239.5h1.0M180.2 243.8h1.0M179.4 238.4h1.0M178.9 238.7h1.0M180.5 239.5h1.0M178.7 242.8h1.0M177.3 243.2h1.0M180.5 240.7h1.0M178.7 243.9h1.0M180.0 242.9h1.0M178.4 244.7h1.0M180.0 244.2h1.0M176.9 240.9h1.0M230.3 223.2h1.0M228.5 217.9h1.0M231.7 219.6h1.0M230.4 215.6h1.0M229.5 216.8h1.0M233.0 222.3h1.0M229.7 219.6h1.0M233.1 214.8h1.0M229.5 219.6h1.0M228.5 218.9h1.0M234.1 216.9h1.0M234.3 221.0h1.0M235.8 219.4h1.0M232.6 219.9h1.0M228.3 222.2h1.0M230.3 218.0h1.0M230.2 222.7h1.0M220.2 218.2h1.0M223.5 218.5h1.0M237.3 223.9h1.0M229.0 220.7h1.0M214.6 217.3h1.0M228.7 219.3h1.0M230.2 220.3h1.0M223.0 215.1h1.0M241.2 222.4h1.0M235.2 220.1h1.0M233.6 216.4h1.0M228.4 217.0h1.0M231.8 222.2h1.0M233.7 216.5h1.0M231.8 225.8h1.0M225.9 216.4h1.0M230.3 220.3h1.0M230.0 212.6h1.0M230.8 219.6h1.0M223.9 217.7h1.0M230.7 221.1h1.0M229.3 220.2h1.0M230.5 218.8h1.0M230.3 225.6h1.0M221.8 221.1h1.0M233.7 217.9h1.0M233.2 220.9h1.0M222.3 211.1h1.0M228.8 217.9h1.0M224.8 222.7h1.0M226.9 217.8h1.0M234.4 220.4h1.0M232.0 216.6h1.0M239.5 222.6h1.0M229.7 219.9h1.0M223.4 219.1h1.0M229.8 222.2h1.0M216.5 223.1h1.0M238.4 222.5h1.0M230.5 214.9h1.0M231.4 220.8h1.0M229.9 220.3h1.0M224.7 216.0h1.0M228.5 215.0h1.0M225.0 218.1h1.0M226.4 218.5h1.0M230.8 219.5h1.0M222.8 217.0h1.0M237.5 220.6h1.0M223.4 219.9h1.0M233.3 219.0h1.0M225.6 220.3h1.0M222.5 217.3h1.0M230.9 215.3h1.0M229.7 219.5h1.0M227.7 221.8h1.0M228.5 226.9h1.0M225.6 213.3h1.0M231.0 218.2h1.0M226.3 216.8h1.0M228.9 220.2h1.0M234.5 217.5h1.0M221.9 219.2h1.0M225.8 221.9h1.0M225.2 217.1h1.0M224.6 218.9h1.0M221.7 223.4h1.0M227.2 221.8h1.0M229.4 215.0h1.0M228.0 225.1h1.0M220.3 216.9h1.0M232.1 220.6h1.0M232.2 218.6h1.0M229.0 218.2h1.0M223.4 217.1h1.0M224.1 220.8h1.0M238.6 218.1h1.0M237.5 216.7h1.0M231.0 218.1h1.0M223.8 219.1h1.0M235.1 214.4h1.0M229.5 221.7h1.0M237.2 218.2h1.0M225.6 221.2h1.0M231.0 223.5h1.0M227.4 220.3h1.0M232.4 221.3h1.0M225.2 218.0h1.0M233.3 218.0h1.0M226.5 214.1h1.0M223.9 218.6h1.0M231.5 218.2h1.0M229.7 213.0h1.0M217.6 219.3h1.0M228.3 223.7h1.0M229.0 220.6h1.0M229.5 222.8h1.0M239.1 219.6h1.0M225.2 216.4h1.0M228.4 219.7h1.0M219.7 217.8h1.0M221.0 215.7h1.0M225.5 222.1h1.0M227.8 219.9h1.0M227.5 217.6h1.0M231.8 220.3h1.0M232.3 219.4h1.0M233.7 221.6h1.0M227.7 223.8h1.0M231.0 218.0h1.0M224.8 215.9h1.0M230.4 223.5h1.0M231.0 226.3h1.0M225.9 217.6h1.0M211.8 215.6h1.0M225.1 215.9h1.0M241.8 220.6h1.0M228.0 219.8h1.0M225.2 218.5h1.0M229.0 221.9h1.0M234.3 217.7h1.0M230.2 218.0h1.0M227.4 215.9h1.0M221.8 222.8h1.0M226.9 222.4h1.0M222.3 222.6h1.0M230.3 217.3h1.0M236.3 223.8h1.0M234.0 220.8h1.0M225.4 221.3h1.0M223.4 220.7h1.0M221.3 218.1h1.0M230.8 219.2h1.0M231.4 215.5h1.0M232.6 218.3h1.0M230.2 219.0h1.0M222.2 215.8h1.0M218.5 219.0h1.0M234.2 223.5h1.0M224.1 217.8h1.0M238.3 217.7h1.0M217.5 216.3h1.0M222.7 219.6h1.0M223.6 224.0h1.0M229.8 220.1h1.0M231.9 220.0h1.0M225.6 215.9h1.0M231.5 220.7h1.0M221.7 220.7h1.0M225.8 218.2h1.0M222.1 219.0h1.0M225.5 217.5h1.0M225.1 221.3h1.0M230.0 223.4h1.0M246.3 222.0h1.0M221.3 220.4h1.0M227.3 219.6h1.0M231.9 218.1h1.0M228.8 217.4h1.0M235.8 219.0h1.0M223.1 219.4h1.0M232.4 219.8h1.0M224.3 222.0h1.0M232.6 221.9h1.0M229.3 223.7h1.0M229.7 221.8h1.0M225.3 218.6h1.0M218.8 219.0h1.0M222.7 214.6h1.0M232.1 224.4h1.0M227.0 217.8h1.0M232.2 218.7h1.0M221.5 224.0h1.0M231.7 216.9h1.0M233.6 218.3h1.0M216.9 218.4h1.0M230.1 218.1h1.0M238.5 220.6h1.0M224.5 219.9h1.0M233.6 221.7h1.0M228.6 219.3h1.0M232.8 221.8h1.0M226.4 218.5h1.0M224.4 220.9h1.0M226.2 222.6h1.0M226.5 214.6h1.0M225.4 218.7h1.0M223.9 219.7h1.0M234.2 214.8h1.0M225.4 210.9h1.0M222.2 219.9h1.0M223.6 217.4h1.0M231.0 221.9h1.0M216.8 218.6h1.0M231.0 219.7h1.0M232.1 218.9h1.0M235.1 220.4h1.0M226.1 216.9h1.0M224.2 217.8h1.0M229.3 221.8h1.0M229.2 218.9h1.0M235.3 221.5h1.0M228.7 219.6h1.0M226.2 218.5h1.0M221.5 216.3h1.0M227.4 221.8h1.0M228.8 217.3h1.0M234.6 221.1h1.0M229.0 215.3h1.0M235.5 220.9h1.0M234.9 221.1h1.0M224.5 217.5h1.0M222.5 214.6h1.0M225.2 218.9h1.0M227.3 219.8h1.0M224.3 217.8h1.0M232.1 218.0h1.0M232.0 222.4h1.0M234.8 219.8h1.0M229.9 218.5h1.0M226.2 221.7h1.0M230.6 219.7h1.0M223.8 217.3h1.0M229.3 222.0h1.0M224.5 218.3h1.0M234.5 222.6h1.0M214.6 216.6h1.0M232.9 220.8h1.0M233.1 223.3h1.0M228.3 220.8h1.0M230.3 221.1h1.0M229.6 220.9h1.0M235.2 222.5h1.0M237.1 220.5h1.0M228.6 220.8h1.0M237.0 219.6h1.0M225.2 224.6h1.0M230.7 217.3h1.0M230.8 222.0h1.0M221.9 216.4h1.0M230.2 221.2h1.0M225.0 222.9h1.0M232.6 216.9h1.0M223.9 224.0h1.0M219.3 216.2h1.0M221.7 216.8h1.0M228.6 220.5h1.0M230.1 216.7h1.0M230.3 222.4h1.0M224.5 220.6h1.0M232.6 212.5h1.0M225.6 215.4h1.0M227.4 217.5h1.0M233.6 221.1h1.0M227.7 216.6h1.0M218.7 216.8h1.0M232.2 221.6h1.0M228.5 216.8h1.0M226.5 220.2h1.0M235.2 216.4h1.0M225.2 222.0h1.0M231.9 223.7h1.0M229.2 216.5h1.0M242.0 214.2h1.0M219.1 214.2h1.0M229.5 222.3h1.0M230.3 218.1h1.0M234.2 222.9h1.0M226.3 215.7h1.0M225.2 216.7h1.0M235.7 219.8h1.0M226.3 222.3h1.0M229.9 219.0h1.0M228.2 216.7h1.0M230.5 220.5h1.0M221.5 219.2h1.0M225.7 220.7h1.0M228.2 219.0h1.0M229.0 217.9h1.0M234.2 220.0h1.0M231.1 213.0h1.0M231.5 220.5h1.0M228.2 222.9h1.0M245.6 223.0h1.0M238.2 219.7h1.0M235.3 225.8h1.0M249.4 222.9h1.0M240.3 223.0h1.0M241.8 220.1h1.0M244.0 220.1h1.0M239.9 221.2h1.0M243.1 221.5h1.0M250.3 223.2h1.0M240.4 221.5h1.0M252.3 226.2h1.0M244.8 226.5h1.0M244.4 226.6h1.0M247.5 223.3h1.0M247.4 227.0h1.0M248.1 226.8h1.0M245.6 221.5h1.0M240.0 220.4h1.0M250.9 223.8h1.0M242.1 225.9h1.0M238.8 220.8h1.0M247.3 222.6h1.0M246.1 225.7h1.0M242.7 221.6h1.0M243.2 221.8h1.0M245.8 224.0h1.0M252.4 224.7h1.0M242.5 217.0h1.0M236.7 218.0h1.0M240.1 222.8h1.0M245.4 219.7h1.0M241.9 224.3h1.0M239.6 221.1h1.0M246.5 223.4h1.0M246.5 223.5h1.0M241.9 218.1h1.0M244.3 220.9h1.0M239.7 219.1h1.0M239.9 221.8h1.0M241.2 224.7h1.0M236.2 219.9h1.0M244.5 222.5h1.0M242.5 217.9h1.0M240.3 220.6h1.0M243.4 221.6h1.0M243.5 221.8h1.0M239.1 222.3h1.0M239.9 224.2h1.0M238.9 221.0h1.0M249.5 224.4h1.0M234.5 216.8h1.0M242.4 223.1h1.0M246.9 223.0h1.0M237.4 217.1h1.0M238.0 221.5h1.0M237.9 219.5h1.0M233.8 221.9h1.0M248.4 224.3h1.0M241.4 221.8h1.0M237.0 224.2h1.0M239.3 220.8h1.0M243.3 221.5h1.0M240.7 221.6h1.0M237.9 221.1h1.0M244.8 220.7h1.0M237.9 222.0h1.0M240.3 222.3h1.0M243.1 221.0h1.0M238.7 217.8h1.0M257.0 218.9h1.0M257.2 219.7h1.0M256.5 221.6h1.0M256.7 230.7h1.0M258.0 221.8h1.0M255.7 235.4h1.0M257.8 229.0h1.0M255.0 223.8h1.0M253.8 228.0h1.0M255.2 228.8h1.0M254.7 220.3h1.0M256.0 218.7h1.0M258.1 230.5h1.0M255.9 221.3h1.0M256.9 228.2h1.0M258.6 227.5h1.0M258.1 218.5h1.0M255.4 227.4h1.0M254.2 227.1h1.0M258.7 229.8h1.0M253.6 224.8h1.0M252.4 226.7h1.0M252.1 226.4h1.0M257.1 224.0h1.0M252.9 231.2h1.0M254.9 228.6h1.0M255.1 230.8h1.0M257.4 226.3h1.0M253.1 229.4h1.0M255.4 221.3h1.0M255.8 222.6h1.0M257.5 228.8h1.0M254.9 224.1h1.0M255.7 223.4h1.0M254.9 225.5h1.0M257.0 218.9h1.0M256.8 225.6h1.0M254.7 226.8h1.0M256.2 223.7h1.0M252.9 220.6h1.0M255.4 231.6h1.0M253.9 226.5h1.0M254.6 221.0h1.0M256.9 222.7h1.0M258.7 218.7h1.0M255.6 218.3h1.0M255.1 217.6h1.0M254.8 221.7h1.0M256.5 226.5h1.0M255.0 227.7h1.0M256.9 224.5h1.0M257.8 228.8h1.0M256.3 227.1h1.0M254.7 220.5h1.0M256.6 221.7h1.0M254.2 226.0h1.0M252.5 227.5h1.0M257.2 229.1h1.0M258.4 219.7h1.0M257.5 217.5h1.0M254.8 232.6h1.0M249.9 223.9h1.0M254.2 228.8h1.0M256.3 225.1h1.0M254.7 219.7h1.0M257.5 230.3h1.0M254.0 226.8h1.0M256.1 230.6h1.0M255.7 227.3h1.0M255.7 221.2h1.0M253.1 224.8h1.0M255.2 228.8h1.0M255.7 222.4h1.0M254.7 225.7h1.0M253.2 229.5h1.0M254.5 220.3h1.0M253.8 223.6h1.0M255.9 225.7h1.0M256.9 228.7h1.0M255.8 224.7h1.0M255.9 222.3h1.0M255.0 227.2h1.0M255.6 222.7h1.0M252.2 226.6h1.0M255.4 226.4h1.0M256.7 224.3h1.0M254.4 228.3h1.0M256.4 229.6h1.0M252.9 220.1h1.0M255.4 227.1h1.0M255.0 224.4h1.0M256.0 223.9h1.0M255.5 225.4h1.0M258.9 229.6h1.0M250.2 224.5h1.0M253.0 223.9h1.0M254.2 220.3h1.0M255.4 224.5h1.0M254.2 225.1h1.0M254.2 221.5h1.0M224.7 243.2h1.0M228.6 249.8h1.0M233.2 248.8h1.0M224.8 246.9h1.0M236.2 243.5h1.0M231.2 249.4h1.0M230.6 248.8h1.0M229.2 248.0h1.0M226.8 248.6h1.0M223.2 247.5h1.0M226.0 251.3h1.0M226.6 250.8h1.0M227.2 256.7h1.0M234.1 255.1h1.0M236.4 248.9h1.0M229.1 243.8h1.0M231.4 251.7h1.0M223.0 246.4h1.0M216.5 255.5h1.0M226.0 242.6h1.0M227.7 247.2h1.0M233.5 255.6h1.0M238.6 249.0h1.0M227.8 252.1h1.0M233.0 251.8h1.0M232.1 246.9h1.0M227.6 252.6h1.0M230.7 245.3h1.0M228.5 247.6h1.0M234.3 258.0h1.0M221.3 248.2h1.0M215.0 250.5h1.0M227.2 244.4h1.0M231.2 254.7h1.0M231.8 245.0h1.0M223.7 245.8h1.0M229.3 246.4h1.0M223.3 244.9h1.0M230.0 242.9h1.0M222.9 247.7h1.0M221.2 246.8h1.0M231.3 248.5h1.0M220.3 244.7h1.0M219.2 245.0h1.0M230.6 247.5h1.0M227.1 248.9h1.0M215.0 244.9h1.0M232.5 248.7h1.0M220.5 247.9h1.0M224.3 253.4h1.0M226.0 251.6h1.0M236.7 251.0h1.0M226.5 253.2h1.0M231.1 246.2h1.0M225.9 254.6h1.0M229.2 249.7h1.0M219.6 246.8h1.0M226.6 250.6h1.0M223.6 244.3h1.0M221.6 256.4h1.0M228.1 249.9h1.0M231.8 242.5h1.0M229.0 244.1h1.0M225.0 246.7h1.0M230.3 246.5h1.0M221.1 250.8h1.0M228.2 252.6h1.0M229.2 253.2h1.0M226.2 251.2h1.0M225.4 244.9h1.0M227.2 253.6h1.0M223.8 254.1h1.0M225.5 240.6h1.0M230.3 246.4h1.0M217.0 247.3h1.0M232.9 245.5h1.0M228.9 253.3h1.0M227.7 250.8h1.0M221.6 249.1h1.0M224.6 243.6h1.0M223.6 240.1h1.0M230.0 244.8h1.0M229.7 245.3h1.0M232.4 245.0h1.0M226.9 239.8h1.0M216.5 242.3h1.0M221.8 247.0h1.0M224.7 250.2h1.0M228.2 246.5h1.0M219.0 247.8h1.0M225.5 248.5h1.0M226.8 248.5h1.0M223.5 253.9h1.0M225.6 245.3h1.0M237.8 249.6h1.0M226.4 243.1h1.0M236.3 253.8h1.0M227.7 251.9h1.0M222.9 253.0h1.0M229.2 249.2h1.0M224.4 248.2h1.0M226.1 243.3h1.0M215.3 250.1h1.0M228.2 254.6h1.0M223.5 236.9h1.0M232.0 256.3h1.0M227.0 245.3h1.0M224.5 250.8h1.0M221.2 245.3h1.0M226.5 248.1h1.0M224.5 252.3h1.0M222.5 248.0h1.0M235.7 256.5h1.0M225.6 249.0h1.0M230.8 251.6h1.0M233.6 246.1h1.0M228.4 246.6h1.0M229.5 247.1h1.0M228.9 250.9h1.0M231.1 255.9h1.0M229.2 248.9h1.0M228.8 243.3h1.0M227.0 246.2h1.0M223.9 242.9h1.0M224.2 250.9h1.0M223.2 248.9h1.0M227.3 244.2h1.0M232.8 247.3h1.0M221.6 252.8h1.0M223.3 250.8h1.0M221.4 246.3h1.0M226.0 252.0h1.0M231.4 250.5h1.0M224.7 246.4h1.0M227.8 249.6h1.0M214.8 256.8h1.0M225.6 244.1h1.0M228.7 253.2h1.0M223.3 248.2h1.0M218.2 251.5h1.0M228.6 250.5h1.0M225.8 250.0h1.0M235.3 248.1h1.0M223.4 248.8h1.0M225.5 251.7h1.0M224.4 250.8h1.0M226.8 242.5h1.0M217.3 250.8h1.0M233.0 254.4h1.0M229.4 252.6h1.0M225.2 249.7h1.0M224.5 241.0h1.0M228.9 251.3h1.0M228.1 251.6h1.0M224.2 255.1h1.0M225.5 244.7h1.0M228.0 247.8h1.0M224.2 246.5h1.0M224.7 247.6h1.0M224.2 241.4h1.0M224.5 246.8h1.0M219.9 246.9h1.0M221.6 247.2h1.0M228.1 255.6h1.0M230.2 246.1h1.0M226.0 246.9h1.0M208.6 253.6h1.0M219.0 246.3h1.0M228.3 253.9h1.0M234.6 250.7h1.0M232.3 246.1h1.0M225.3 245.7h1.0M224.6 249.3h1.0M224.2 247.9h1.0M234.9 249.2h1.0M227.5 246.3h1.0M221.8 251.3h1.0M231.0 245.9h1.0M230.4 246.7h1.0M216.4 248.0h1.0M223.2 243.3h1.0M231.3 247.4h1.0M230.8 247.8h1.0M220.2 242.5h1.0M226.3 241.0h1.0M230.7 254.1h1.0M228.0 247.6h1.0M221.2 248.1h1.0M225.4 246.0h1.0M229.6 255.5h1.0M228.8 247.8h1.0M221.6 241.0h1.0M237.9 250.8h1.0M227.5 244.5h1.0M219.0 250.6h1.0M224.8 248.1h1.0M212.9 254.2h1.0M223.0 250.8h1.0M226.2 247.1h1.0M238.3 254.9h1.0M227.4 260.5h1.0M228.2 246.4h1.0M230.2 253.4h1.0M227.5 250.4h1.0M223.5 250.7h1.0M233.1 243.4h1.0M229.0 244.6h1.0M234.0 254.9h1.0M231.5 249.4h1.0M221.8 246.5h1.0M224.2 256.6h1.0M224.5 254.1h1.0M224.6 252.0h1.0M228.7 244.6h1.0M225.6 248.8h1.0M222.6 255.2h1.0M233.7 240.0h1.0M233.2 241.9h1.0M226.7 245.3h1.0M221.3 253.0h1.0M223.5 249.8h1.0M222.8 250.9h1.0M222.1 249.7h1.0M221.7 249.3h1.0M227.7 254.0h1.0M228.6 250.9h1.0M221.9 254.5h1.0M228.0 246.9h1.0M236.3 255.8h1.0M227.7 249.3h1.0M224.6 249.6h1.0M239.9 246.8h1.0M228.1 245.5h1.0M223.5 246.5h1.0M230.9 244.6h1.0M223.0 243.2h1.0M224.8 256.9h1.0M231.5 250.8h1.0M223.6 253.2h1.0M219.3 251.1h1.0M230.0 242.7h1.0M230.6 249.0h1.0M219.8 245.0h1.0M224.8 245.4h1.0M231.9 248.4h1.0M227.8 249.6h1.0M230.7 249.3h1.0M226.0 249.4h1.0M223.5 247.6h1.0M223.8 249.0h1.0M225.1 254.3h1.0M227.5 258.4h1.0M213.4 253.8h1.0M217.2 247.9h1.0M226.7 250.6h1.0M229.9 253.1h1.0M223.4 253.3h1.0M226.7 254.2h1.0M221.4 254.3h1.0M242.5 252.1h1.0M238.4 250.0h1.0M230.9 242.0h1.0M246.5 247.8h1.0M243.7 250.6h1.0M235.0 254.0h1.0M240.1 249.7h1.0M237.7 245.4h1.0M237.4 256.4h1.0M250.5 250.8h1.0M237.9 249.1h1.0M254.5 253.1h1.0M239.2 253.7h1.0M235.7 250.6h1.0M240.8 248.6h1.0M254.4 248.7h1.0M239.1 254.1h1.0M243.1 250.4h1.0M226.5 252.9h1.0M243.5 243.3h1.0M231.8 248.9h1.0M239.3 249.4h1.0M248.2 249.0h1.0M238.5 243.1h1.0M244.3 249.1h1.0M238.7 257.2h1.0M238.0 252.1h1.0M241.7 248.8h1.0M246.5 248.0h1.0M240.6 245.5h1.0M239.9 251.8h1.0M234.3 247.8h1.0M229.9 249.3h1.0M240.8 254.4h1.0M238.9 254.6h1.0M241.6 253.3h1.0M246.2 244.2h1.0M244.9 248.6h1.0M234.7 255.6h1.0M241.5 246.1h1.0M257.1 244.1h1.0M255.4 238.0h1.0M256.7 251.9h1.0M254.9 233.6h1.0M253.9 246.3h1.0M254.1 236.0h1.0M257.3 247.6h1.0M255.0 256.3h1.0M253.9 246.0h1.0M256.5 248.1h1.0M253.4 248.7h1.0M255.2 253.4h1.0M255.9 242.0h1.0M255.8 252.4h1.0M256.0 251.0h1.0M255.3 244.9h1.0M252.2 245.2h1.0M255.8 259.5h1.0M255.4 256.3h1.0M255.2 254.4h1.0M256.1 246.2h1.0M256.4 249.4h1.0M255.7 243.1h1.0M257.4 240.1h1.0M258.3 248.5h1.0M255.8 247.7h1.0M255.0 243.5h1.0M253.8 243.6h1.0M256.2 254.0h1.0M253.1 248.5h1.0M257.6 241.3h1.0M254.8 240.2h1.0M256.3 252.9h1.0M254.3 245.0h1.0M254.0 255.9h1.0M256.4 252.0h1.0M254.1 258.1h1.0M255.8 251.1h1.0M255.3 246.6h1.0M257.5 260.9h1.0M255.8 251.2h1.0M257.5 250.2h1.0M256.6 250.5h1.0M254.4 246.8h1.0M238.3 238.7h1.0M254.3 248.0h1.0M252.1 243.7h1.0M237.7 241.8h1.0M241.9 239.3h1.0M243.1 231.9h1.0M226.5 234.4h1.0M252.0 238.4h1.0M237.1 240.4h1.0M212.3 238.0h1.0M241.5 240.1h1.0M223.2 242.4h1.0M237.7 236.8h1.0M242.2 237.9h1.0M230.4 235.8h1.0M237.4 244.5h1.0M250.3 231.5h1.0M217.6 242.0h1.0M211.5 242.7h1.0M232.6 231.5h1.0" stroke="#0a0a0a" stroke-width="1" fill="none"/>
<text x="47.9" y="207.4" font-size="9.4" text-anchor="start">1</text>
<text x="114.0" y="207.4" font-size="9.4" text-anchor="end">76</text>
<text x="47.9" y="261.6" font-size="9.4" text-anchor="start">0</text>
<text x="114.0" y="261.6" font-size="9.4" text-anchor="end">23</text>
<text x="127.2" y="207.4" font-size="9.4" text-anchor="start">20</text>
<text x="191.4" y="207.4" font-size="9.4" text-anchor="end">42</text>
<text x="127.2" y="261.6" font-size="9.4" text-anchor="start">13</text>
<text x="191.4" y="261.6" font-size="9.4" text-anchor="end">25</text>
<text x="205.6" y="207.4" font-size="9.4" text-anchor="start">49</text>
<text x="269.9" y="207.4" font-size="9.4" text-anchor="end">10</text>
<text x="205.6" y="261.6" font-size="9.4" text-anchor="start">36</text>
<text x="269.9" y="261.6" font-size="9.4" text-anchor="end">5</text>
<text x="286.7" y="186.0" font-size="16.5" text-anchor="start">D</text>
<line x1="339.8" y1="180.1" x2="339.8" y2="295.9" stroke="#2a2a2a" stroke-width="0.9"/>
<line x1="339.4" y1="295.9" x2="512.7" y2="295.9" stroke="#2a2a2a" stroke-width="0.9"/>
<line x1="336.4" y1="180.3" x2="339.8" y2="180.3" stroke="#2a2a2a" stroke-width="0.9"/>
<text x="334.9" y="182.9" font-size="8.3" text-anchor="end">100</text>
<line x1="336.4" y1="209.2" x2="339.8" y2="209.2" stroke="#2a2a2a" stroke-width="0.9"/>
<text x="334.9" y="211.8" font-size="8.3" text-anchor="end">75</text>
<line x1="336.4" y1="238.1" x2="339.8" y2="238.1" stroke="#2a2a2a" stroke-width="0.9"/>
<text x="334.9" y="240.7" font-size="8.3" text-anchor="end">50</text>
<line x1="336.4" y1="267.0" x2="339.8" y2="267.0" stroke="#2a2a2a" stroke-width="0.9"/>
<text x="334.9" y="269.6" font-size="8.3" text-anchor="end">25</text>
<line x1="336.4" y1="295.9" x2="339.8" y2="295.9" stroke="#2a2a2a" stroke-width="0.9"/>
<text x="334.9" y="298.5" font-size="8.3" text-anchor="end">0</text>
<text x="313.6" y="238.0" font-size="10.8" text-anchor="middle" transform="rotate(-90 313.6 238.0)">Inhibition (%)</text>
<line x1="360.5" y1="271.5" x2="360.5" y2="275.5" stroke="#2a2a2a" stroke-width="0.9"/>
<line x1="355.2" y1="271.5" x2="365.8" y2="271.5" stroke="#2a2a2a" stroke-width="0.9"/>
<rect x="349.6" y="275.5" width="21.8" height="20.4" fill="#fff" stroke="#2a2a2a" stroke-width="0.9"/>
<line x1="382.3" y1="206.0" x2="382.3" y2="219.1" stroke="#2a2a2a" stroke-width="0.9"/>
<line x1="377.1" y1="206.0" x2="387.6" y2="206.0" stroke="#2a2a2a" stroke-width="0.9"/>
<rect x="371.4" y="219.1" width="21.8" height="76.8" fill="#fff"/>
<rect x="371.4" y="219.1" width="21.8" height="76.8" fill="url(#h)" stroke="#2a2a2a" stroke-width="0.9"/>
<line x1="404.1" y1="197.2" x2="404.1" y2="218.6" stroke="#2a2a2a" stroke-width="0.9"/>
<line x1="398.9" y1="197.2" x2="409.4" y2="197.2" stroke="#2a2a2a" stroke-width="0.9"/>
<rect x="393.0" y="218.4" width="22.2" height="77.5" fill="#000"/>
<line x1="382.3" y1="295.9" x2="382.3" y2="298.9" stroke="#2a2a2a" stroke-width="0.9"/>
<line x1="447.4" y1="275.8" x2="447.4" y2="286.8" stroke="#2a2a2a" stroke-width="0.9"/>
<line x1="442.1" y1="275.8" x2="452.6" y2="275.8" stroke="#2a2a2a" stroke-width="0.9"/>
<rect x="436.5" y="286.8" width="21.8" height="9.1" fill="#fff" stroke="#2a2a2a" stroke-width="0.9"/>
<line x1="469.2" y1="209.5" x2="469.2" y2="221.1" stroke="#2a2a2a" stroke-width="0.9"/>
<line x1="464.0" y1="209.5" x2="474.5" y2="209.5" stroke="#2a2a2a" stroke-width="0.9"/>
<rect x="458.3" y="221.1" width="21.8" height="74.8" fill="#fff"/>
<rect x="458.3" y="221.1" width="21.8" height="74.8" fill="url(#h)" stroke="#2a2a2a" stroke-width="0.9"/>
<line x1="491.0" y1="221.6" x2="491.0" y2="235.0" stroke="#2a2a2a" stroke-width="0.9"/>
<line x1="485.8" y1="221.6" x2="496.2" y2="221.6" stroke="#2a2a2a" stroke-width="0.9"/>
<rect x="479.9" y="234.8" width="22.2" height="61.1" fill="#000"/>
<line x1="469.2" y1="295.9" x2="469.2" y2="298.9" stroke="#2a2a2a" stroke-width="0.9"/>
<text x="382.4" y="308.0" font-size="9.7" text-anchor="middle">OCs</text>
<text x="469.5" y="308.0" font-size="9.7" text-anchor="middle">DCs</text>
<rect x="444.9" y="175.9" width="16.3" height="6.2" fill="#fff" stroke="#2a2a2a" stroke-width="0.9"/>
<rect x="444.9" y="187.7" width="16.3" height="5.7" fill="#fff"/>
<rect x="444.9" y="187.7" width="16.3" height="5.7" fill="url(#h)" stroke="#2a2a2a" stroke-width="0.9"/>
<rect x="444.7" y="199.6" width="16.7" height="5.8" fill="#000"/>
<text x="463.6" y="181.8" font-size="9.3" text-anchor="start">Isotype Ab</text>
<text x="463.6" y="193.7" font-size="9.3" text-anchor="start">Anti-MHC I</text>
<text x="463.6" y="205.7" font-size="9.3" text-anchor="start">Anti-MHC II</text>
</svg>
</body></html>
